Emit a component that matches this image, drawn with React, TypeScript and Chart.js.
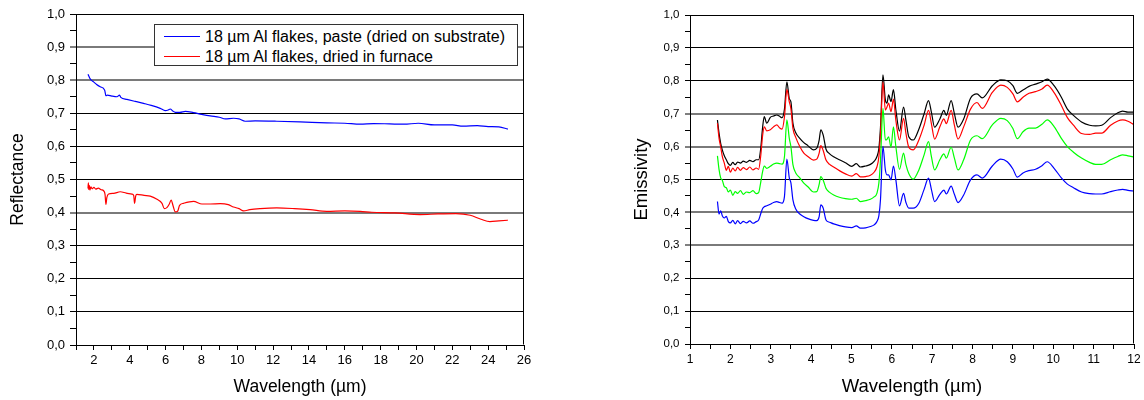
import React, { useEffect, useRef } from 'react';
import { Chart, registerables } from 'chart.js';

Chart.register(...registerables);

const FONT = '"Liberation Sans", Arial, Helvetica, sans-serif';

// ---------- Left chart: reflectance ----------
const pasteWavelength = [1.67, 1.72, 1.78, 1.85, 1.98, 2.15, 2.35, 2.6, 2.67, 2.75, 3.0, 3.29, 3.43, 3.5, 3.84, 4.3, 4.77, 5.2, 5.7, 5.98, 6.15, 6.26, 6.4, 6.54, 6.8, 7.1, 7.56, 8.0, 8.49, 9.0, 9.33, 9.79, 10.1, 10.44, 11.0, 12.2, 13.5, 15.0, 16.0, 16.86, 17.6, 18.5, 19.3, 20.1, 21.0, 22.0, 22.6, 23.4, 24.0, 24.6, 25.1];
const pasteReflectance = [0.818, 0.812, 0.805, 0.8, 0.795, 0.787, 0.78, 0.77, 0.753, 0.755, 0.752, 0.75, 0.755, 0.748, 0.742, 0.736, 0.73, 0.724, 0.715, 0.708, 0.71, 0.713, 0.707, 0.703, 0.703, 0.706, 0.702, 0.697, 0.692, 0.688, 0.683, 0.685, 0.683, 0.676, 0.677, 0.676, 0.674, 0.671, 0.67, 0.667, 0.669, 0.668, 0.667, 0.67, 0.665, 0.665, 0.661, 0.663, 0.66, 0.659, 0.652];

const furnaceWavelength = [1.67, 1.69, 1.71, 1.74, 1.78, 1.83, 1.9, 2.0, 2.1, 2.25, 2.4, 2.54, 2.62, 2.67, 2.72, 2.82, 3.1, 3.47, 3.8, 4.12, 4.22, 4.27, 4.33, 4.4, 4.8, 5.14, 5.52, 5.8, 5.93, 6.07, 6.2, 6.31, 6.42, 6.54, 6.67, 6.78, 7.0, 7.56, 8.03, 8.5, 9.05, 9.5, 9.79, 10.1, 10.35, 10.7, 11.28, 12.2, 13.2, 14.06, 14.99, 16.0, 16.86, 17.5, 18.8, 20.2, 21.2, 22.2, 23.0, 23.6, 24.1, 24.6, 25.1];
const furnaceReflectance = [0.473, 0.49, 0.47, 0.482, 0.468, 0.478, 0.472, 0.476, 0.471, 0.474, 0.469, 0.466, 0.455, 0.425, 0.445, 0.456, 0.458, 0.463, 0.459, 0.456, 0.452, 0.428, 0.45, 0.455, 0.452, 0.45, 0.44, 0.428, 0.412, 0.415, 0.425, 0.438, 0.42, 0.402, 0.404, 0.422, 0.428, 0.434, 0.426, 0.426, 0.427, 0.424, 0.417, 0.412, 0.405, 0.409, 0.412, 0.414, 0.412, 0.409, 0.404, 0.405, 0.404, 0.401, 0.399, 0.394, 0.396, 0.397, 0.392, 0.38, 0.373, 0.375, 0.377];

const reflLegendLabels = ['18 µm Al flakes, paste (dried on substrate)', '18 µm Al flakes, dried in furnace'];
const reflColors = ['#0000ff', '#ff0000'];

// ---------- Right chart: emissivity ----------
const emisWavelength = [
  1.68, 1.72, 1.76, 1.8, 1.85, 1.9, 1.95, 2.0,
  2.06, 2.12, 2.18, 2.25, 2.32, 2.4, 2.48, 2.56, 2.64, 2.7,
  2.75, 2.8, 2.84, 2.9, 2.99, 3.07, 3.15, 3.22, 3.28, 3.34,
  3.4, 3.46, 3.5, 3.55, 3.62, 3.72, 3.82, 3.92, 4.06, 4.14,
  4.2, 4.24, 4.3, 4.37, 4.46, 4.56, 4.7, 4.85, 5.01, 5.12,
  5.22, 5.35, 5.47, 5.56, 5.63, 5.68, 5.72, 5.78, 5.84, 5.88,
  5.92, 5.98, 6.04, 6.1, 6.19, 6.29, 6.35, 6.42, 6.53, 6.67,
  6.8, 6.91, 6.98, 7.06, 7.19, 7.29, 7.35, 7.47, 7.55, 7.64,
  7.78, 7.95, 8.11, 8.24, 8.49, 8.7, 8.86, 9.0, 9.11, 9.25,
  9.4, 9.56, 9.72, 9.85, 10.02, 10.2, 10.35, 10.5, 10.7, 10.9,
  11.05, 11.2, 11.42, 11.6, 11.72, 11.85, 12.0,
];
const emisBlack = [
  0.681, 0.64, 0.61, 0.59, 0.572, 0.56, 0.548, 0.543,
  0.552, 0.545, 0.553, 0.55, 0.556, 0.552, 0.558, 0.554, 0.56, 0.56,
  0.592, 0.66, 0.691, 0.671, 0.689, 0.693, 0.696, 0.692, 0.688, 0.714,
  0.797, 0.746, 0.736, 0.671, 0.642, 0.625, 0.612, 0.603, 0.59, 0.595,
  0.62, 0.651, 0.635, 0.592, 0.578, 0.569, 0.56, 0.551, 0.54, 0.548,
  0.538, 0.541, 0.546, 0.555, 0.569, 0.595, 0.66, 0.818, 0.742, 0.732,
  0.757, 0.737, 0.773, 0.712, 0.647, 0.72, 0.68, 0.63, 0.62, 0.653,
  0.7, 0.74, 0.705, 0.659, 0.684, 0.71, 0.695, 0.74, 0.7, 0.659,
  0.684, 0.747, 0.76, 0.748, 0.785, 0.803, 0.8, 0.785, 0.762, 0.772,
  0.783, 0.79, 0.797, 0.805, 0.785, 0.75, 0.714, 0.695, 0.675, 0.665,
  0.663, 0.665, 0.688, 0.703, 0.708, 0.705, 0.705,
];
const emisRed = [
  0.671, 0.625, 0.6, 0.57, 0.55, 0.528, 0.54, 0.522,
  0.535, 0.526, 0.537, 0.528, 0.536, 0.53, 0.538, 0.529, 0.535, 0.531,
  0.569, 0.635, 0.66, 0.648, 0.651, 0.66, 0.666, 0.657, 0.653, 0.69,
  0.774, 0.736, 0.715, 0.655, 0.628, 0.6, 0.58, 0.57, 0.559, 0.562,
  0.58, 0.603, 0.588, 0.559, 0.546, 0.538, 0.527, 0.517, 0.51, 0.518,
  0.508, 0.509, 0.513, 0.522, 0.538, 0.57, 0.64, 0.797, 0.711, 0.72,
  0.732, 0.706, 0.744, 0.68, 0.62, 0.686, 0.64, 0.598, 0.59, 0.62,
  0.665, 0.71, 0.67, 0.623, 0.66, 0.684, 0.67, 0.71, 0.665, 0.623,
  0.66, 0.714, 0.734, 0.716, 0.765, 0.787, 0.78, 0.76, 0.736, 0.75,
  0.762, 0.767, 0.775, 0.787, 0.764, 0.725, 0.688, 0.665, 0.64, 0.637,
  0.641, 0.641, 0.665, 0.678, 0.681, 0.677, 0.667,
];
const emisGreen = [
  0.572, 0.53, 0.505, 0.498, 0.478, 0.475, 0.462, 0.468,
  0.452, 0.463, 0.458, 0.466, 0.455, 0.462, 0.46, 0.466, 0.457, 0.46,
  0.49, 0.525, 0.541, 0.534, 0.54, 0.547, 0.55, 0.548, 0.547, 0.569,
  0.681, 0.625, 0.6, 0.545, 0.52, 0.505, 0.489, 0.478, 0.462, 0.463,
  0.485, 0.509, 0.498, 0.473, 0.461, 0.453, 0.446, 0.442, 0.44, 0.443,
  0.433, 0.436, 0.44, 0.447, 0.458, 0.49, 0.56, 0.716, 0.62, 0.622,
  0.63, 0.598, 0.66, 0.6, 0.531, 0.58, 0.545, 0.518, 0.501, 0.529,
  0.575, 0.615, 0.57, 0.529, 0.56, 0.578, 0.565, 0.598, 0.565, 0.529,
  0.56, 0.62, 0.633, 0.624, 0.666, 0.686, 0.679, 0.655, 0.624, 0.645,
  0.656, 0.656, 0.668, 0.681, 0.661, 0.625, 0.6, 0.583, 0.565, 0.552,
  0.546, 0.546, 0.56, 0.57, 0.575, 0.572, 0.568,
];
const emisBlue = [
  0.433, 0.395, 0.405, 0.39, 0.383, 0.388, 0.372, 0.368,
  0.376, 0.365, 0.375, 0.366, 0.373, 0.368, 0.374, 0.367, 0.372, 0.377,
  0.395, 0.412, 0.417, 0.42, 0.425, 0.43, 0.433, 0.43, 0.428, 0.448,
  0.562, 0.505, 0.49, 0.438, 0.41, 0.395, 0.387, 0.381, 0.376, 0.375,
  0.387, 0.423, 0.413, 0.377, 0.37, 0.365, 0.36, 0.356, 0.354, 0.359,
  0.352, 0.353, 0.357, 0.362, 0.372, 0.39, 0.44, 0.601, 0.529, 0.514,
  0.514, 0.499, 0.541, 0.499, 0.42, 0.458, 0.43, 0.413, 0.413, 0.428,
  0.47, 0.504, 0.47, 0.433, 0.455, 0.468, 0.456, 0.48, 0.455, 0.43,
  0.453, 0.499, 0.514, 0.504, 0.541, 0.562, 0.554, 0.532, 0.507, 0.52,
  0.527, 0.531, 0.542, 0.554, 0.534, 0.505, 0.486, 0.475, 0.462, 0.457,
  0.456, 0.456, 0.463, 0.468, 0.47, 0.467, 0.465,
];

// ---------- Axis labels ----------
const yTickLabels = ['0,0', '0,1', '0,2', '0,3', '0,4', '0,5', '0,6', '0,7', '0,8', '0,9', '1,0'];
const reflXTickLabels = ['2', '4', '6', '8', '10', '12', '14', '16', '18', '20', '22', '24', '26'];
const emisXTickLabels = ['1', '2', '3', '4', '5', '6', '7', '8', '9', '10', '11', '12'];
const reflGreyGrid = [4, 8, 9];
const emisGreyGrid = [3, 4, 6, 7];

const toPoints = (xs: number[], ys: number[]) => xs.map((x, i) => ({ x, y: ys[i] }));

const framePlugin = {
  id: 'frame',
  afterDraw(chart: any) {
    const { ctx, chartArea } = chart;
    const l = Math.round(chartArea.left) + 0.5;
    const r = Math.round(chartArea.right) - 0.5;
    const t = Math.round(chartArea.top) + 0.5;
    const b = Math.round(chartArea.bottom) - 0.5;
    ctx.save();
    ctx.strokeStyle = '#000';
    ctx.lineWidth = 1;
    ctx.beginPath();
    ctx.moveTo(l, t);
    ctx.lineTo(r, t);
    ctx.lineTo(r, b);
    ctx.stroke();
    ctx.restore();
  },
};

function yAxis(opts: { title: string; titleSize: number; tickSize: number; titlePadTop: number; width: number; tickLen: number; tickPad: number; greys: number[] }) {
  return {
    type: 'linear',
    min: 0,
    max: 1,
    afterFit: (s: any) => { s.width = opts.width; },
    ticks: {
      stepSize: 0.05,
      autoSkip: false,
      color: '#000',
      padding: opts.tickPad,
      font: { family: FONT, size: opts.tickSize },
      callback: (v: number) => {
        const i = Math.round(v * 20);
        return i % 2 === 0 ? yTickLabels[i / 2] : '';
      },
    },
    grid: {
      color: (c: any) => {
        if (!c.tick) return 'rgba(0,0,0,0)';
        const i = Math.round(c.tick.value * 20);
        if (i % 2 !== 0) return 'rgba(0,0,0,0)';
        return opts.greys.includes(i / 2) ? '#7a7a7a' : '#000';
      },
      lineWidth: (c: any) => {
        if (!c.tick) return 1;
        const i = Math.round(c.tick.value * 20);
        return i % 2 === 0 && opts.greys.includes(i / 2) ? 2 : 1;
      },
      tickColor: '#000',
      tickWidth: 1,
      tickLength: opts.tickLen,
    },
    border: { display: true, color: '#000', width: 1 },
    title: {
      display: true,
      text: opts.title,
      color: '#000',
      font: { family: FONT, size: opts.titleSize },
      padding: { top: opts.titlePadTop, bottom: 0 },
    },
  };
}

function xAxis(opts: { min: number; max: number; step: number; labels: string[]; labelFor: (v: number) => number; titleSize: number; tickSize: number; titlePadBottom: number; height: number; tickLen: number; tickPad: number }) {
  return {
    type: 'linear',
    min: opts.min,
    max: opts.max,
    afterFit: (s: any) => { s.height = opts.height; },
    ticks: {
      stepSize: opts.step,
      autoSkip: false,
      maxRotation: 0,
      color: '#000',
      padding: opts.tickPad,
      font: { family: FONT, size: opts.tickSize },
      callback: (v: number) => {
        const idx = opts.labelFor(v);
        return idx >= 0 && idx < opts.labels.length ? opts.labels[idx] : '';
      },
    },
    grid: { drawOnChartArea: false, tickColor: '#000', tickWidth: 1, tickLength: opts.tickLen },
    border: { display: true, color: '#000', width: 1 },
    title: {
      display: true,
      text: 'Wavelength (µm)',
      color: '#000',
      font: { family: FONT, size: opts.titleSize },
      padding: { top: 0, bottom: opts.titlePadBottom },
    },
  };
}

function lineDataset(label: string, xs: number[], ys: number[], color: string) {
  return {
    label,
    data: toPoints(xs, ys),
    borderColor: color,
    backgroundColor: color,
    borderWidth: 1.2,
    pointRadius: 0,
    fill: false,
    cubicInterpolationMode: 'monotone',
  };
}

function reflConfig(): any {
  return {
    type: 'line',
    data: {
      datasets: [
        lineDataset(reflLegendLabels[0], pasteWavelength, pasteReflectance, reflColors[0]),
        lineDataset(reflLegendLabels[1], furnaceWavelength, furnaceReflectance, reflColors[1]),
      ],
    },
    options: {
      responsive: false,
      animation: false,
      layout: { padding: { top: 14, right: 36, left: 0, bottom: 0 } },
      plugins: { legend: { display: false }, tooltip: { enabled: false } },
      scales: {
        x: xAxis({
          min: 1, max: 26, step: 1, labels: reflXTickLabels,
          labelFor: (v) => { const r = Math.round(v); return r % 2 === 0 ? r / 2 - 1 : -1; },
          titleSize: 17.5, tickSize: 13, titlePadBottom: 2.5, height: 55, tickLen: 5, tickPad: 3,
        }),
        y: yAxis({ title: 'Reflectance', titleSize: 17.5, tickSize: 13, titlePadTop: 7.5, width: 76, tickLen: 6, tickPad: 5, greys: reflGreyGrid }),
      },
    },
    plugins: [framePlugin],
  };
}

function emisConfig(): any {
  return {
    type: 'line',
    data: {
      datasets: [
        lineDataset('Blue', emisWavelength, emisBlue, '#0000ff'),
        lineDataset('Green', emisWavelength, emisGreen, '#00ff00'),
        lineDataset('Red', emisWavelength, emisRed, '#ff0000'),
        lineDataset('Black', emisWavelength, emisBlack, '#000000'),
      ],
    },
    options: {
      responsive: false,
      animation: false,
      layout: { padding: { top: 15, right: 10, left: 0, bottom: 0 } },
      plugins: { legend: { display: false }, tooltip: { enabled: false } },
      scales: {
        x: xAxis({
          min: 1, max: 12, step: 0.5, labels: emisXTickLabels,
          labelFor: (v) => { const r = Math.round(v * 2); return r % 2 === 0 ? r / 2 - 1 : -1; },
          titleSize: 18.5, tickSize: 12, titlePadBottom: 1.9, height: 56, tickLen: 5, tickPad: 3,
        }),
        y: yAxis({ title: 'Emissivity', titleSize: 18.5, tickSize: 11.5, titlePadTop: 50.4, width: 110, tickLen: 5, tickPad: 5.5, greys: emisGreyGrid }),
      },
    },
    plugins: [framePlugin],
  };
}

function ChartCanvas({ make, left, width }: { make: () => any; left: number; width: number }) {
  const ref = useRef<HTMLCanvasElement>(null);
  useEffect(() => {
    const chart = new Chart(ref.current as HTMLCanvasElement, make());
    return () => chart.destroy();
  }, [make]);
  return (
    <canvas
      ref={ref}
      width={width}
      height={400}
      style={{ position: 'absolute', left, top: 0, width, height: 400 }}
    />
  );
}

function ReflLegend() {
  return (
    <div
      style={{
        position: 'absolute', left: 154, top: 24, width: 364, height: 42,
        boxSizing: 'border-box', border: '1px solid #333', background: '#fff',
        fontFamily: FONT, fontSize: 16, color: '#000',
      }}
    >
      {reflLegendLabels.map((label, i) => (
        <div key={label} style={{ position: 'absolute', left: 0, top: 3 + i * 20, height: 18, width: '100%' }}>
          <div style={{ position: 'absolute', left: 9, top: 8, width: 36, height: 0, borderTop: `1px solid ${reflColors[i]}` }} />
          <span style={{ position: 'absolute', left: 50, top: 0, lineHeight: '18px', whiteSpace: 'nowrap' }}>{label}</span>
        </div>
      ))}
    </div>
  );
}

export default function App() {
  return (
    <div style={{ position: 'fixed', left: 0, top: 0, width: 1144, height: 400, background: '#fff', overflow: 'hidden' }}>
      <ChartCanvas make={reflConfig} left={0} width={560} />
      <ReflLegend />
      <ChartCanvas make={emisConfig} left={580} width={564} />
    </div>
  );
}
